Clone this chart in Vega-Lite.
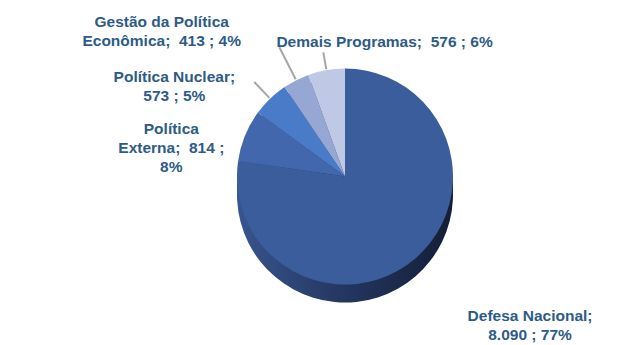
{
  "$schema": "https://vega.github.io/schema/vega-lite/v6.json",
  "width": 570,
  "height": 337,
  "autosize": {"type": "none"},
  "padding": {"left": 60, "right": 0, "top": 8, "bottom": 0},
  "background": "white",
  "config": {"view": {"stroke": null}},
  "data": {
    "values": [
      {"i": 1, "name": "Defesa Nacional", "value": 8090, "label": "Defesa Nacional;\n8.090 ; 77%"},
      {"i": 2, "name": "Política Externa", "value": 814, "label": "Política\nExterna; \u00a0814 ;\n8%"},
      {"i": 3, "name": "Política Nuclear", "value": 573, "label": "Política Nuclear;\n573 ; 5%"},
      {"i": 4, "name": "Gestão da Política Econômica", "value": 413, "label": "Gestão da Política\nEconômica; \u00a0413 ; 4%"},
      {"i": 5, "name": "Demais Programas", "value": 576, "label": "Demais Programas; \u00a0576 ; 6%"}
    ]
  },
  "encoding": {
    "theta": {"field": "value", "type": "quantitative", "stack": true},
    "order": {"field": "i", "type": "quantitative"},
    "detail": {"field": "name", "type": "nominal"}
  },
  "layer": [
    {
      "mark": {
        "type": "arc", "outerRadius": 108, "yOffset": 18,
        "color": {"gradient": "linear", "x1": 0, "y1": 0, "x2": 1, "y2": 0,
          "stops": [{"offset": 0, "color": "#38558F"}, {"offset": 0.55, "color": "#22335C"}, {"offset": 1, "color": "#141E36"}]}
      }
    },
    {
      "mark": {
        "type": "arc", "outerRadius": 108, "yOffset": 9,
        "color": {"gradient": "linear", "x1": 0, "y1": 0, "x2": 1, "y2": 0,
          "stops": [{"offset": 0, "color": "#38558F"}, {"offset": 0.55, "color": "#22335C"}, {"offset": 1, "color": "#141E36"}]}
      }
    },
    {
      "mark": {"type": "arc", "outerRadius": 108},
      "encoding": {
        "color": {
          "field": "name", "type": "nominal", "legend": null,
          "scale": {
            "domain": ["Defesa Nacional", "Política Externa", "Política Nuclear", "Gestão da Política Econômica", "Demais Programas"],
            "range": ["#3B5D9B", "#4267AD", "#4A7BC9", "#97A7D4", "#BFC8E4"]
          }
        }
      }
    },
    {
      "mark": {"type": "arc", "innerRadius": 109, "outerRadius": 131, "padAngle": 1.6, "filled": false, "strokeWidth": 2},
      "encoding": {"stroke": {"condition": {"test": "datum.i === 3", "value": "#A6A6A6"}, "value": "transparent"}}
    },
    {
      "mark": {"type": "arc", "innerRadius": 109, "outerRadius": 145, "padAngle": 1.6, "filled": false, "strokeWidth": 2},
      "encoding": {"stroke": {"condition": {"test": "datum.i === 4", "value": "#A6A6A6"}, "value": "transparent"}}
    },
    {
      "mark": {"type": "arc", "innerRadius": 109, "outerRadius": 126, "padAngle": 1.6, "filled": false, "strokeWidth": 2},
      "encoding": {"stroke": {"condition": {"test": "datum.i === 5", "value": "#A6A6A6"}, "value": "transparent"}}
    },
    {
      "mark": {"type": "text", "radius": 185, "align": "center", "dx": 64, "baseline": "middle", "font": "Liberation Sans", "fontWeight": "bold", "fontSize": 15.5, "lineHeight": 19, "lineBreak": "\n", "color": "#2D5B87"},
      "encoding": {"text": {"condition": {"test": "datum.i === 1", "field": "label", "type": "nominal"}, "value": ""}}
    },
    {
      "mark": {"type": "text", "radius": 125, "align": "center", "dx": -58, "baseline": "middle", "font": "Liberation Sans", "fontWeight": "bold", "fontSize": 15.5, "lineHeight": 19, "lineBreak": "\n", "color": "#2D5B87"},
      "encoding": {"text": {"condition": {"test": "datum.i === 2", "field": "label", "type": "nominal"}, "value": ""}}
    },
    {
      "mark": {"type": "text", "radius": 138, "align": "center", "dx": -75, "baseline": "middle", "font": "Liberation Sans", "fontWeight": "bold", "fontSize": 15.5, "lineHeight": 19, "lineBreak": "\n", "color": "#2D5B87"},
      "encoding": {"text": {"condition": {"test": "datum.i === 3", "field": "label", "type": "nominal"}, "value": ""}}
    },
    {
      "mark": {"type": "text", "radius": 173, "align": "center", "dx": -105, "baseline": "middle", "font": "Liberation Sans", "fontWeight": "bold", "fontSize": 15.5, "lineHeight": 19, "lineBreak": "\n", "color": "#2D5B87"},
      "encoding": {"text": {"condition": {"test": "datum.i === 4", "field": "label", "type": "nominal"}, "value": ""}}
    },
    {
      "mark": {"type": "text", "radius": 137, "align": "left", "dx": -45, "baseline": "middle", "font": "Liberation Sans", "fontWeight": "bold", "fontSize": 15.5, "lineHeight": 19, "lineBreak": "\n", "color": "#2D5B87"},
      "encoding": {"text": {"condition": {"test": "datum.i === 5", "field": "label", "type": "nominal"}, "value": ""}}
    }
  ]
}
